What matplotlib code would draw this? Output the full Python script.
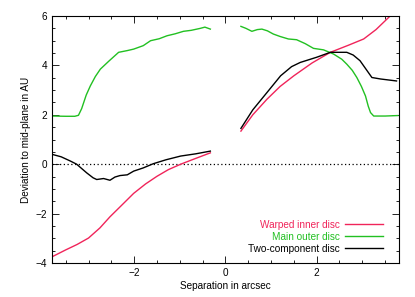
import matplotlib
matplotlib.use("Agg")
import matplotlib.pyplot as plt
from matplotlib.ticker import MultipleLocator

plt.rcParams['font.family'] = ['Liberation Sans', 'DejaVu Sans']

# Warped inner disc (red)
warp_x_left = [-3.8, -3.5, -3.25, -3.0, -2.75, -2.53, -2.25, -2.01, -1.75, -1.5, -1.25, -0.98, -0.7, -0.33]
warp_y_left = [-3.75, -3.47, -3.25, -2.99, -2.58, -2.13, -1.62, -1.18, -0.8, -0.49, -0.22, 0.0, 0.2, 0.46]
warp_x_right = [0.34, 0.6, 0.91, 1.2, 1.5, 1.9, 2.3, 2.7, 3.03, 3.3, 3.61, 3.8]
warp_y_right = [1.34, 2.0, 2.63, 3.15, 3.58, 4.1, 4.53, 4.82, 5.07, 5.45, 6.0, 6.35]

# Main outer disc (green)
main_x_left = [-3.8, -3.5, -3.3, -3.22, -3.15, -3.05, -2.96, -2.85, -2.74, -2.55, -2.34, -2.15,
               -2.01, -1.8, -1.64, -1.45, -1.28, -1.1, -0.92, -0.75, -0.55, -0.45, -0.33]
main_y_left = [1.95, 1.94, 1.94, 1.98, 2.25, 2.8, 3.17, 3.55, 3.85, 4.18, 4.53, 4.6,
               4.66, 4.8, 5.0, 5.08, 5.2, 5.28, 5.38, 5.42, 5.5, 5.55, 5.47]
main_x_right = [0.34, 0.45, 0.58, 0.7, 0.8, 0.92, 1.05, 1.2, 1.38, 1.56, 1.75, 1.93, 2.15,
                2.37, 2.55, 2.66, 2.78, 2.88, 2.98, 3.07, 3.13, 3.18, 3.25, 3.5, 3.78]
main_y_right = [5.58, 5.5, 5.38, 5.45, 5.47, 5.4, 5.27, 5.17, 5.07, 5.04, 4.88, 4.69, 4.63,
                4.46, 4.25, 4.05, 3.8, 3.51, 3.15, 2.76, 2.35, 2.09, 1.95, 1.95, 1.97]

# Two-component disc (black)
two_x_left = [-3.8, -3.6, -3.4, -3.26, -3.04, -2.9, -2.82, -2.67, -2.53, -2.42, -2.31, -2.15,
              -2.01, -1.8, -1.58, -1.3, -0.98, -0.65, -0.33]
two_y_left = [0.4, 0.3, 0.13, 0.0, -0.35, -0.55, -0.62, -0.58, -0.65, -0.52, -0.46, -0.43,
              -0.28, -0.15, 0.02, 0.18, 0.33, 0.42, 0.53]
two_x_right = [0.34, 0.6, 0.91, 1.21, 1.45, 1.64, 2.0, 2.3, 2.66, 2.8, 2.95, 3.08, 3.21,
               3.4, 3.75]
two_y_right = [1.45, 2.2, 2.9, 3.58, 3.95, 4.12, 4.33, 4.53, 4.53, 4.42, 4.19, 3.85, 3.51,
               3.45, 3.37]

red = '#f0245a'
green = '#22c022'
black = '#000000'

fig = plt.figure(figsize=(4.15, 2.97), dpi=100)
ax = fig.add_axes([0.1253, 0.1145, 0.8357, 0.8316])

ax.axhline(0, color='black', linestyle=(0, (1, 2)), lw=0.9)

ax.plot(warp_x_left, warp_y_left, color=red, lw=1.0, label='Warped inner disc')
ax.plot(warp_x_right, warp_y_right, color=red, lw=1.0)
ax.plot(main_x_left, main_y_left, color=green, lw=1.0, label='Main outer disc')
ax.plot(main_x_right, main_y_right, color=green, lw=1.0)
ax.plot(two_x_left, two_y_left, color=black, lw=1.0, label='Two-component disc')
ax.plot(two_x_right, two_y_right, color=black, lw=1.0)

ax.set_xlim(-3.8, 3.8)
ax.set_ylim(-4, 6)
ax.xaxis.set_major_locator(MultipleLocator(2))
ax.xaxis.set_minor_locator(MultipleLocator(0.5))
ax.yaxis.set_major_locator(MultipleLocator(2))
ax.yaxis.set_minor_locator(MultipleLocator(0.5))
ax.tick_params(which='both', direction='in', top=True, right=True, labelsize=7.2, width=0.6)
ax.tick_params(which='major', length=5)
ax.tick_params(which='minor', length=2.5)
for s in ax.spines.values():
    s.set_linewidth(0.8)

ax.set_xlabel('Separation in arcsec', fontsize=7.2, labelpad=2)
ax.set_ylabel('Deviation to mid-plane in AU', fontsize=7.2, labelpad=3)

leg = ax.legend(loc='lower right', frameon=False, fontsize=7.2, markerfirst=False,
                handlelength=3.8, handletextpad=0.5, labelspacing=0.2,
                bbox_to_anchor=(0.98, 0.0))
for txt, line in zip(leg.get_texts(), leg.get_lines()):
    txt.set_color(line.get_color())

fig.savefig('out.png', dpi=100)
